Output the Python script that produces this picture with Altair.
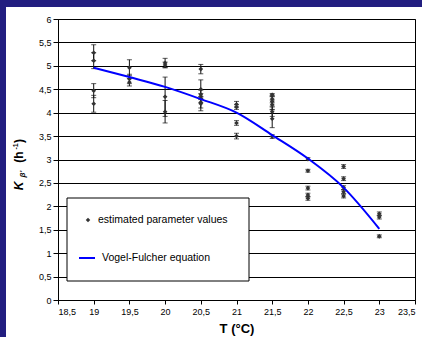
import altair as alt
import pandas as pd

# ---- data ----
temps_19 = [19, 19, 19, 19]
vals_19 = [5.28, 5.11, 4.47, 4.19]
errs_19 = [0.17, 0.17, 0.15, 0.18]

temps_195 = [19.5, 19.5, 19.5]
vals_195 = [4.96, 4.72, 4.65]
errs_195 = [0.17, 0.10, 0.08]

temps_20 = [20, 20, 20, 20]
vals_20 = [5.06, 5.02, 4.34, 4.02]
errs_20 = [0.10, 0.06, 0.42, 0.24]

temps_205 = [20.5, 20.5, 20.5, 20.5, 20.5, 20.5]
vals_205 = [4.93, 4.50, 4.38, 4.31, 4.22, 4.19]
errs_205 = [0.10, 0.20, 0.10, 0.10, 0.12, 0.15]

temps_21 = [21, 21, 21, 21]
vals_21 = [4.18, 4.12, 3.78, 3.50]
errs_21 = [0.06, 0.05, 0.05, 0.06]

temps_215 = [21.5, 21.5, 21.5, 21.5, 21.5, 21.5, 21.5]
vals_215 = [4.38, 4.29, 4.24, 4.17, 4.02, 3.87, 3.49]
errs_215 = [0.03, 0.08, 0.10, 0.10, 0.10, 0.19, 0.04]

temps_22 = [22, 22, 22, 22, 22]
vals_22 = [3.01, 2.76, 2.39, 2.24, 2.17]
errs_22 = [0.03, 0.03, 0.04, 0.04, 0.04]

temps_225 = [22.5, 22.5, 22.5, 22.5, 22.5]
vals_225 = [2.85, 2.59, 2.40, 2.31, 2.22]
errs_225 = [0.04, 0.04, 0.04, 0.04, 0.04]

temps_23 = [23, 23, 23]
vals_23 = [1.84, 1.77, 1.36]
errs_23 = [0.04, 0.04, 0.03]

vf_temps = [19, 19.5, 20, 20.5, 21, 21.5, 22, 22.5, 23]
vf_values = [4.96, 4.76, 4.55, 4.29, 4.00, 3.52, 3.02, 2.40, 1.52]

x_ticks = [18.5, 19, 19.5, 20, 20.5, 21, 21.5, 22, 22.5, 23, 23.5]
y_ticks = [0, 0.5, 1, 1.5, 2, 2.5, 3, 3.5, 4, 4.5, 5, 5.5, 6]

legend_labels = ["estimated parameter values", "Vogel-Fulcher equation"]

# ---- tables ----
T = (temps_19 + temps_195 + temps_20 + temps_205 + temps_21 + temps_215
     + temps_22 + temps_225 + temps_23)
K = (vals_19 + vals_195 + vals_20 + vals_205 + vals_21 + vals_215
     + vals_22 + vals_225 + vals_23)
E = (errs_19 + errs_195 + errs_20 + errs_205 + errs_21 + errs_215
     + errs_22 + errs_225 + errs_23)
pts = pd.DataFrame({"T": T, "K": K, "err": E})
pts["lo"] = pts["K"] - pts["err"]
pts["hi"] = pts["K"] + pts["err"]
vf = pd.DataFrame({"T": vf_temps, "K": vf_values})
one = pd.DataFrame({"a": [0]})

FONT = "Liberation Sans"
W, H = 357, 281
xs = alt.Scale(domain=[18.5, 23.5], nice=False)
ys = alt.Scale(domain=[0, 6], nice=False)

x_axis = alt.Axis(values=x_ticks, format=".1~f",
                  labelExpr="replace(datum.label, '.', ',')",
                  title="T (°C)", titleFontSize=13, titleFont=FONT,
                  titleFontWeight="bold", titlePadding=6,
                  labelFont=FONT, labelFontSize=9, labelColor="#000",
                  labelOverlap=False,
                  tickSize=4, tickColor="#000", domainColor="#000",
                  labelPadding=3, grid=False)
y_axis = alt.Axis(values=y_ticks, format=".1~f",
                  labelExpr="replace(datum.label, '.', ',')",
                  title=None, labelFont=FONT, labelFontSize=9,
                  labelColor="#000", labelOverlap=False,
                  tickSize=5, tickColor="#000",
                  domainColor="#000", labelPadding=2,
                  grid=True, gridColor="#000", gridWidth=1, gridOpacity=1)

def X(f):
    return alt.X(f, scale=xs, axis=x_axis)

def Y(f):
    return alt.Y(f, scale=ys, axis=y_axis)

base = alt.Chart(pts)

# navy frame (left and top) and white cover on the right margin
NAVY = "#221e80"
frame_left = alt.Chart(one).mark_rect(color=NAVY).encode(
    x=alt.value(-58), x2=alt.value(-52), y=alt.value(-19), y2=alt.value(318))
frame_top = alt.Chart(one).mark_rect(color=NAVY).encode(
    x=alt.value(-58), x2=alt.value(364), y=alt.value(-19), y2=alt.value(-12))
right_white = alt.Chart(one).mark_rect(color="white").encode(
    x=alt.value(358), x2=alt.value(364), y=alt.value(-12), y2=alt.value(318))

bars = base.mark_rule(color="#111", strokeWidth=1).encode(
    x=X("T:Q"), y=Y("lo:Q"), y2="hi:Q")
cap_lo = base.mark_tick(color="#111", orient="horizontal", size=5,
                        thickness=1).encode(x=X("T:Q"), y=Y("lo:Q"))
cap_hi = base.mark_tick(color="#111", orient="horizontal", size=5,
                        thickness=1).encode(x=X("T:Q"), y=Y("hi:Q"))
points = base.mark_point(shape="diamond", filled=True, size=22,
                         color="#333", opacity=1).encode(
    x=X("T:Q"), y=Y("K:Q"))

curve = alt.Chart(vf).mark_line(color="#0000ff", strokeWidth=2,
                                interpolate="monotone").encode(
    x=X("T:Q"), y=Y("K:Q"))

# legend (manual)
leg_box = alt.Chart(one).mark_rect(fill="white", stroke="#000",
                                   strokeWidth=1).encode(
    x=alt.value(9), x2=alt.value(191), y=alt.value(179), y2=alt.value(262))
leg_pt = alt.Chart(one).mark_point(shape="diamond", filled=True, size=20,
                                   color="#333", opacity=1).encode(
    x=alt.value(30), y=alt.value(201))
leg_t1 = alt.Chart(one).mark_text(text=legend_labels[0], font=FONT,
                                  fontSize=10.5, align="left",
                                  baseline="middle", color="#000").encode(
    x=alt.value(40), y=alt.value(201))
leg_ln = alt.Chart(one).mark_rule(color="#0000ff", strokeWidth=2).encode(
    x=alt.value(21), x2=alt.value(37), y=alt.value(239))
leg_t2 = alt.Chart(one).mark_text(text=legend_labels[1], font=FONT,
                                  fontSize=10.5, align="left",
                                  baseline="middle", color="#000").encode(
    x=alt.value(44), y=alt.value(239))

# y title pieces (rotated)
def ytxt(s, x, y, size, italic=False):
    return alt.Chart(one).mark_text(
        text=s, font=FONT, fontSize=size, fontWeight="bold",
        fontStyle="italic" if italic else "normal", angle=270,
        align="center", baseline="middle", color="#000").encode(
        x=alt.value(x - 58), y=alt.value(y - 19))

yt = [ytxt("K", 19, 186, 12, True), ytxt("β'", 22.5, 174, 8, True),
      ytxt("(h", 19, 157, 12), ytxt("-1", 15.5, 146.5, 7),
      ytxt(")", 19, 141, 12)]

chart = alt.layer(frame_left, frame_top, right_white, bars, cap_lo, cap_hi,
                  points, curve, leg_box, leg_pt, leg_t1, leg_ln, leg_t2, *yt
                  ).properties(
    width=W, height=H,
    autosize=alt.AutoSizeParams(type="none"),
    padding={"left": 58, "top": 19, "right": 7, "bottom": 37},
    background="white",
).configure_view(stroke="#000", strokeWidth=1)

chart.save("out.html", embed_options={"renderer": "svg", "actions": False})
